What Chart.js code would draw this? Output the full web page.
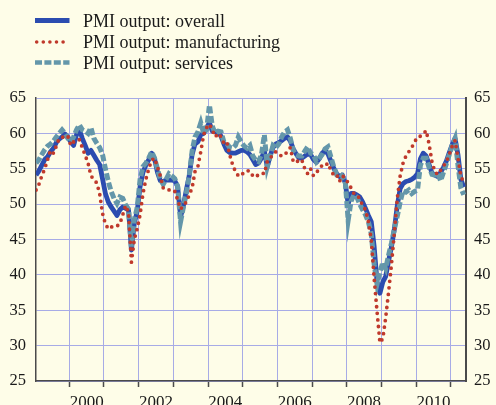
<!DOCTYPE html>
<html>
<head>
<meta charset="utf-8">
<script src="https://cdn.jsdelivr.net/npm/chart.js@4.4.1/dist/chart.umd.min.js"></script>
<style>
  html, body { margin: 0; padding: 0; background: #fefde8; }
  canvas { display: block; }
</style>
</head>
<body>
<canvas id="c" width="496" height="405"></canvas>
<script>
// ---- data (monthly, Jan 1999 .. May 2011) ----
const startYear = 1999;
const seriesNames = ['PMI output: overall', 'PMI output: manufacturing', 'PMI output: services'];

const overall = [
  54.1, 54.7, 55.5, 56.3, 56.7, 57.4, 57.9, 58.7, 59.2, 59.5,
  59.9, 59.5, 58.8, 58.3, 59.8, 60.5, 59.3, 58.3, 57.2, 57.6,
  56.9, 56.2, 55.6, 53.6, 51.5, 50.3, 49.6, 49.0, 48.4, 49.2,
  49.6, 49.4, 49.2, 43.5, 47.3, 49.0, 52.5, 54.5, 55.5, 56.3,
  57.2, 56.4, 54.5, 53.3, 53.2, 53.4, 53.4, 53.4, 53.3, 52.5,
  48.2, 49.8, 52.0, 54.0, 57.0, 58.5, 58.8, 59.8, 60.0, 60.8,
  61.5, 60.3, 60.2, 60.2, 59.6, 58.5, 57.6, 57.3, 57.2, 57.2,
  57.4, 57.6, 57.6, 57.4, 57.0, 56.3, 55.6, 55.8, 56.5, 57.5,
  55.3, 56.8, 58.0, 58.5, 58.7, 59.0, 59.3, 59.5, 58.9, 57.8,
  57.1, 56.5, 56.5, 56.8, 57.1, 57.0, 56.3, 55.9, 56.4, 57.2,
  57.6, 57.1, 56.1, 55.1, 54.3, 53.9, 54.1, 53.0, 50.0, 51.5,
  51.5, 51.3, 51.0, 50.3, 49.4, 48.4, 47.5, 44.0, 39.0, 37.4,
  39.0, 39.8, 42.0, 44.0, 46.5, 49.8, 52.2, 52.9, 53.2, 53.3,
  53.5, 53.8, 54.3, 56.4, 57.2, 56.8, 55.6, 54.4, 54.1, 53.9,
  54.5, 55.2, 56.1, 57.3, 58.4, 59.3, 57.0, 53.5, 52.4
];

const manufacturing = [
  52.0, 52.8, 54.0, 55.0, 56.3, 57.6, 57.2, 58.2, 59.3, 59.4,
  59.7, 59.6, 58.3, 58.8, 59.1, 59.1, 58.0, 56.9, 55.8, 54.0,
  53.5, 53.0, 51.5, 48.7, 47.2, 46.5, 46.8, 46.7, 46.9, 47.2,
  48.5, 49.8, 48.8, 41.8, 45.0, 46.5, 48.5, 51.5, 53.5, 55.0,
  56.2, 56.5, 55.3, 54.0, 52.3, 52.0, 52.0, 52.1, 51.8, 50.6,
  49.3, 49.8, 50.3, 51.3, 52.3, 54.6, 55.3, 57.4, 59.8, 60.8,
  61.3, 60.5, 59.5, 60.0, 59.5, 58.6, 58.8, 57.0, 55.6, 54.6,
  54.0, 54.0, 54.6, 54.7, 54.7, 54.0, 53.8, 54.2, 54.4, 54.3,
  56.0, 56.5, 57.0, 57.4, 57.0, 56.8, 56.9, 57.5, 58.0, 56.0,
  56.2, 55.9, 56.2, 55.0, 54.3, 55.0, 54.0, 54.5, 54.9, 55.5,
  55.4, 55.8, 54.8, 54.1, 54.2, 53.2, 54.0, 53.7, 53.0, 52.3,
  51.5, 51.3, 50.8, 49.8, 49.2, 47.5, 45.0, 39.5, 34.8, 30.4,
  31.0, 34.0, 37.6, 41.5, 46.0, 50.8, 54.0, 55.8, 56.8, 57.4,
  58.0, 58.8, 59.5, 59.6, 59.9, 60.4, 58.5, 56.0, 54.6, 54.2,
  54.8, 55.4, 56.0, 57.0, 58.2, 59.0, 56.5, 54.0, 53.0
];

const services = [
  55.8, 56.3, 57.0, 57.7, 58.2, 58.5, 58.9, 59.5, 60.0, 60.5,
  60.0, 59.3, 58.8, 59.5, 60.5, 61.2, 60.5, 60.3, 60.0, 60.8,
  59.3, 58.6, 58.0, 57.0, 55.0, 53.2, 51.8, 50.8, 50.1, 51.0,
  50.8, 49.9, 49.3, 44.0, 47.8, 49.5, 53.5, 55.3, 55.8, 56.5,
  57.4, 56.5, 55.0, 53.5, 52.8, 53.5, 54.3, 54.0, 53.6, 52.5,
  47.5, 49.6, 51.5, 54.0, 57.5, 59.5, 60.2, 61.5, 60.0, 60.5,
  64.0, 61.0, 60.0, 60.3, 60.2, 58.8, 58.6, 58.0, 57.9, 58.3,
  59.5, 58.8, 58.2, 57.9, 58.3, 56.8, 56.2, 56.0, 57.0, 59.8,
  55.3, 56.8, 58.3, 58.0, 58.5, 59.5, 60.2, 60.5, 59.3, 57.6,
  57.0, 56.8, 56.8, 57.5, 58.1, 57.2, 57.0, 56.0, 56.5, 57.0,
  57.8, 58.1, 56.7, 55.3, 54.2, 54.3, 54.0, 53.2, 47.7, 50.4,
  51.3, 51.0, 50.0, 49.2, 48.5, 47.5, 45.8, 41.5, 38.7, 40.4,
  41.8, 40.9, 42.8, 44.5, 46.5, 48.3, 50.3, 51.9, 51.7, 52.0,
  51.5, 51.8, 52.0, 55.5, 56.5, 56.5, 55.2, 54.2, 54.1, 54.3,
  53.3, 54.5, 55.7, 57.0, 58.3, 59.3, 55.5, 52.3, 51.3
];

const yearGrid = [2000, 2001, 2002, 2003, 2004, 2005, 2006, 2007, 2008, 2009, 2010, 2011];
const yearLabels = ['2000', '2002', '2004', '2006', '2008', '2010'];
const yTicks = [25, 30, 35, 40, 45, 50, 55, 60, 65];

// month index -> decimal year at mid-month
function toPoints(arr) {
  return arr.map((v, i) => ({ x: startYear + (i + 0.5) / 12, y: v }));
}

// ---- styles ----
const BG = '#fefde8';
const GRID = '#a7abe6';
const AXIS = '#4a4a4a';
const TEXT = '#1a1a1a';
const SERIF = '"Liberation Serif", "Times New Roman", serif';

const bgPlugin = {
  id: 'bg',
  beforeDraw(chart) {
    const c = chart.ctx;
    c.save();
    c.fillStyle = BG;
    c.fillRect(0, 0, chart.width, chart.height);
    c.restore();
  }
};

const legendBox = { x0: 35, x1: 69.5, textX: 83, rows: [20.5, 42, 62.5], font: '18px ' + SERIF };
const legendPlugin = {
  id: 'lineLegend',
  afterDraw(chart) {
    const c = chart.ctx;
    c.save();
    chart.data.datasets.forEach((ds, i) => {
      const y = legendBox.rows[i];
      c.beginPath();
      c.strokeStyle = ds.borderColor;
      c.lineWidth = ds.legendWidth || ds.borderWidth;
      c.setLineDash(ds.legendDash || ds.borderDash || []);
      c.lineCap = ds.borderCapStyle || 'butt';
      c.moveTo(ds.legendStart || legendBox.x0, y);
      c.lineTo(legendBox.x1, y);
      c.stroke();
      c.setLineDash([]);
      c.fillStyle = TEXT;
      c.font = legendBox.font;
      c.textBaseline = 'alphabetic';
      c.textAlign = 'left';
      c.fillText(ds.label, legendBox.textX, y + 6);
    });
    c.restore();
  }
};

const isYear = v => Math.abs(v - Math.round(v)) < 1e-6;

new Chart(document.getElementById('c'), {
  type: 'line',
  data: {
    datasets: [
      { label: seriesNames[0], data: toPoints(overall), borderColor: '#2b4cb0', borderWidth: 4.8,
        legendWidth: 5, pointRadius: 0, tension: 0, borderJoinStyle: 'round', order: 2 },
      { label: seriesNames[1], data: toPoints(manufacturing), borderColor: '#c0392b', borderWidth: 3.8,
        borderDash: [0, 6.6], borderCapStyle: 'round', legendStart: 36.7, legendWidth: 3.6,
        pointRadius: 0, tension: 0, order: 0 },
      { label: seriesNames[2], data: toPoints(services), borderColor: '#6497aa', borderWidth: 5,
        borderDash: [7, 2.6], legendDash: [7, 2.4], legendWidth: 4.7, pointRadius: 0, tension: 0, order: 1 }
    ]
  },
  options: {
    responsive: false,
    animation: false,
    devicePixelRatio: 1,
    layout: { padding: { top: 98, left: 0, right: 0, bottom: 0 } },
    plugins: { legend: { display: false }, tooltip: { enabled: false } },
    scales: {
      x: {
        type: 'linear',
        position: 'bottom',
        min: 1999.04,
        max: 2011.44,
        afterBuildTicks: axis => {
          const t = [];
          yearGrid.forEach(y => { t.push({ value: y }); t.push({ value: y + 0.5 }); });
          axis.ticks = t.filter(o => o.value <= 2011.44);
        },
        afterFit: s => { s.height = 24; },
        grid: {
          color: ctx => (ctx.tick && isYear(ctx.tick.value)) ? GRID : 'rgba(0,0,0,0)',
          tickColor: ctx => (ctx.tick && isYear(ctx.tick.value)) ? AXIS : 'rgba(0,0,0,0)',
          lineWidth: 1,
          tickLength: 6,
          tickWidth: 1.5
        },
        border: { display: true, color: AXIS, width: 1.5 },
        ticks: {
          autoSkip: false,
          maxRotation: 0,
          padding: 5,
          color: TEXT,
          font: { family: SERIF, size: 17 },
          callback: v => {
            const y = Math.floor(v);
            return (Math.abs(v - y - 0.5) < 1e-6 && yearLabels.includes(String(y))) ? String(y) : '';
          }
        }
      },
      y: {
        position: 'left',
        min: 25,
        max: 65,
        afterBuildTicks: axis => { axis.ticks = yTicks.map(v => ({ value: v })); },
        afterFit: s => { s.width = 36; },
        grid: { color: GRID, lineWidth: 1, drawTicks: false },
        border: { display: true, color: AXIS, width: 1.5 },
        ticks: { padding: 10, color: TEXT, font: { family: SERIF, size: 16.5 } }
      },
      y2: {
        position: 'right',
        min: 25,
        max: 65,
        afterBuildTicks: axis => { axis.ticks = yTicks.map(v => ({ value: v })); },
        afterFit: s => { s.width = 30; },
        grid: { drawOnChartArea: false, drawTicks: false },
        border: { display: true, color: AXIS, width: 2 },
        ticks: { padding: 8, color: TEXT, font: { family: SERIF, size: 16.5 } }
      }
    }
  },
  plugins: [bgPlugin, legendPlugin]
});
</script>
</body>
</html>
